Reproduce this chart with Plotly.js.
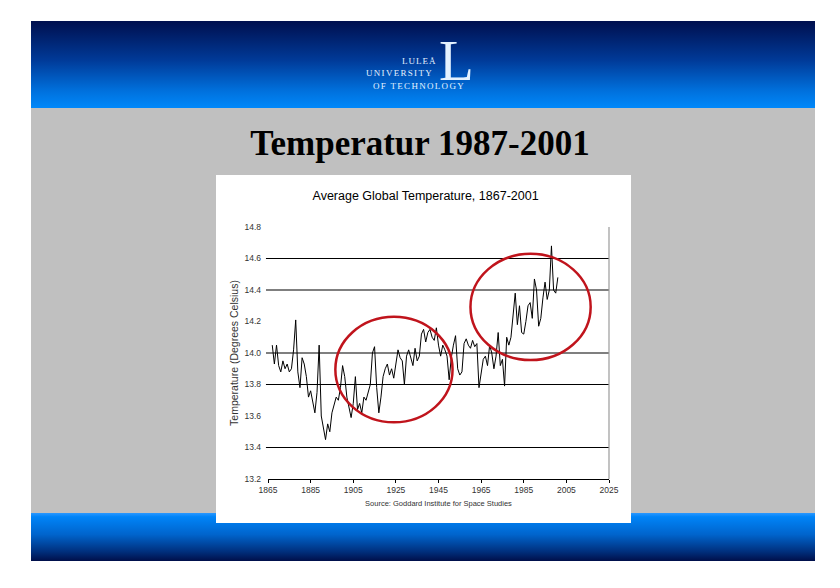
<!DOCTYPE html>
<html>
<head>
<meta charset="utf-8">
<script src="https://cdn.plot.ly/plotly-3.0.1.min.js"></script>
<style>
  html, body { margin:0; padding:0; background:#ffffff; }
  #page { position:relative; width:840px; height:588px; background:#ffffff; overflow:hidden; }
  #header { position:absolute; left:31px; top:21px; width:784px; height:87px;
            background:linear-gradient(to bottom, #000f4e 0%, #003a98 45%, #0070dc 80%, #0088fa 100%); }
  #grey { position:absolute; left:31px; top:108px; width:784px; height:405px; background:#c0c0c0; }
  #footer { position:absolute; left:31px; top:513px; width:784px; height:48px;
            background:linear-gradient(to bottom, #2a98ff 0%, #0084f8 8%, #0064cc 45%, #00307e 80%, #000f4a 100%); }
  .logo { position:absolute; font-family:"Liberation Serif","DejaVu Serif",serif; color:#e4f2ff; white-space:nowrap; }
  #slideTitle { position:absolute; left:0; width:840px; top:124px; text-align:center;
                font-family:"Liberation Serif","Times New Roman",serif; font-weight:bold; font-size:35px; color:#000; }
  #chart { position:absolute; left:216px; top:175px; width:415px; height:348px; background:#fff; }
</style>
</head>
<body>
<div id="page">
  <div id="header"></div>
  <div class="logo" style="left:402px; top:56px; font-size:9px; line-height:11px; letter-spacing:1px;">LULEÅ</div>
  <div class="logo" style="left:366px; top:68px; font-size:9px; line-height:11px; letter-spacing:1.3px;">UNIVERSITY</div>
  <div class="logo" style="left:373px; top:81px; font-size:9px; line-height:11px; letter-spacing:1.3px;">OF TECHNOLOGY</div>
  <div class="logo" style="left:439px; top:42px; font-size:57px; line-height:38px; height:38px;">L</div>
  <div id="grey"></div>
  <div id="footer"></div>
  <div id="slideTitle">Temperatur 1987-2001</div>
  <div id="chart"></div>
</div>
<script>
// ---- data ----
const years = [
  1867,1868,1869,1870,1871,1872,1873,1874,1875,1876,1877,1878,1879,1880,1881,1882,1883,1884,1885,1886,
  1887,1888,1889,1890,1891,1892,1893,1894,1895,1896,1897,1898,1899,1900,1901,1902,1903,1904,1905,1906,
  1907,1908,1909,1910,1911,1912,1913,1914,1915,1916,1917,1918,1919,1920,1921,1922,1923,1924,1925,1926,
  1927,1928,1929,1930,1931,1932,1933,1934,1935,1936,1937,1938,1939,1940,1941,1942,1943,1944,1945,1946,
  1947,1948,1949,1950,1951,1952,1953,1954,1955,1956,1957,1958,1959,1960,1961,1962,1963,1964,1965,1966,
  1967,1968,1969,1970,1971,1972,1973,1974,1975,1976,1977,1978,1979,1980,1981,1982,1983,1984,1985,1986,
  1987,1988,1989,1990,1991,1992,1993,1994,1995,1996,1997,1998,1999,2000,2001
];
const temperature = [
  14.05,13.93,14.05,13.92,13.88,13.95,13.90,13.93,13.88,13.90,14.02,14.21,13.88,13.78,13.97,13.93,13.85,13.72,13.76,13.70,
  13.62,13.75,14.05,13.60,13.53,13.45,13.55,13.50,13.62,13.68,13.72,13.70,13.78,13.92,13.85,13.72,13.65,13.59,13.68,13.85,
  13.64,13.68,13.62,13.72,13.70,13.76,13.80,14.00,14.04,13.78,13.62,13.72,13.85,13.90,13.93,13.86,13.90,13.84,13.92,14.02,
  13.97,13.95,13.80,13.98,14.02,13.97,13.92,14.03,13.95,13.98,14.12,14.15,14.07,14.13,14.15,14.10,14.08,14.16,14.05,13.98,
  14.05,14.02,13.98,13.83,13.97,14.05,14.11,13.90,13.86,13.88,14.06,14.09,14.05,14.03,14.08,14.04,14.06,13.78,13.88,13.96,
  13.98,13.92,14.05,14.00,13.90,13.98,14.13,13.92,13.96,13.79,14.10,14.05,14.10,14.25,14.38,14.18,14.30,14.13,14.12,14.20,
  14.30,14.32,14.22,14.47,14.40,14.17,14.22,14.35,14.45,14.34,14.40,14.68,14.40,14.38,14.48
];
const xTickVals = [1865,1885,1905,1925,1945,1965,1985,2005,2025];
const yTickVals = [13.2,13.4,13.6,13.8,14.0,14.2,14.4,14.6,14.8];
const gridValues = [13.4,13.8,14.0,14.4,14.6];

// ---- highlight ellipses (decoration drawn in data coordinates) ----
const highlightRings = [
  {x0:1896.6, x1:1951.6, y0:13.56, y1:14.23},
  {x0:1960.0, x1:2016.4, y0:13.955, y1:14.63}
];

const shapes = [];
gridValues.forEach(v => shapes.push({
  type:'line', xref:'paper', yref:'y', x0:-0.006, x1:1, y0:v, y1:v,
  line:{color:'#000000', width:1.2}, layer:'below'
}));
shapes.push({type:'line', xref:'paper', yref:'paper', x0:1, x1:1, y0:0, y1:1,
  line:{color:'#9a9a9a', width:1.2}});
highlightRings.forEach(r => shapes.push({
  type:'circle', xref:'x', yref:'y', x0:r.x0, x1:r.x1, y0:r.y0, y1:r.y1,
  line:{color:'#c0141c', width:2.5}
}));

const trace = {
  x: years, y: temperature, type:'scatter', mode:'lines',
  line:{color:'#000000', width:1}, hoverinfo:'skip', showlegend:false
};

const layout = {
  width:415, height:348,
  margin:{l:52, r:22, t:52, b:44},
  paper_bgcolor:'#ffffff', plot_bgcolor:'#ffffff',
  font:{family:'"Liberation Sans", Arial, sans-serif', color:'#222'},
  title:{text:'Average Global Temperature, 1867-2001', x:0.505, xref:'container',
         y:0.94, yref:'container', yanchor:'middle',
         font:{size:12.5, color:'#000', family:'"Liberation Sans", Arial, sans-serif'}},
  xaxis:{range:[1865,2025], tickvals:xTickVals, ticktext:xTickVals.map(String),
         showgrid:false, zeroline:false, showline:true, linecolor:'#000', linewidth:1.2,
         ticks:'outside', ticklen:3, tickcolor:'#000', tickfont:{size:8.5, color:'#333'},
         title:{text:'Source: Goddard Institute for Space Studies', font:{size:7.5, color:'#333'}, standoff:6}},
  yaxis:{range:[13.2,14.8], tickvals:yTickVals, ticktext:yTickVals.map(v=>v.toFixed(1)),
         showgrid:false, zeroline:false, showline:false, ticks:'', ticklabelstandoff:6,
         tickfont:{size:8.5, color:'#333'},
         title:{text:'Temperature (Degrees Celsius)', font:{size:10.5, color:'#333'}, standoff:3}},
  shapes: shapes
};

Plotly.newPlot('chart', [trace], layout, {staticPlot:true, displayModeBar:false});
</script>
</body>
</html>
